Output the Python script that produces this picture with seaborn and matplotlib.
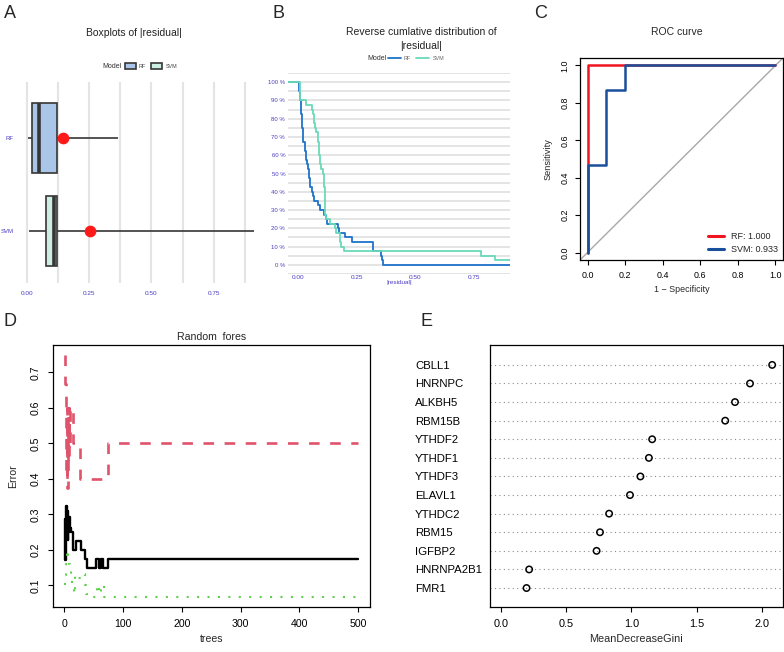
import numpy as np
import pandas as pd
import matplotlib
matplotlib.use("Agg")
import matplotlib.pyplot as plt
import seaborn as sns
from matplotlib.patches import Patch
from matplotlib.lines import Line2D

# |residual| of each model
rf_resid = [0.004, 0.006, 0.008, 0.010, 0.012, 0.013, 0.014, 0.015, 0.017, 0.018,
            0.019, 0.021, 0.022, 0.029, 0.031, 0.032, 0.035, 0.040, 0.044, 0.046,
            0.048, 0.050, 0.053, 0.058, 0.062, 0.068, 0.085, 0.095, 0.110, 0.120,
            0.125, 0.170, 0.175, 0.200, 0.230, 0.318, 0.320, 0.355, 0.360, 0.364]
svm_resid = [0.007, 0.008, 0.009, 0.010, 0.033, 0.060, 0.064, 0.067, 0.070, 0.074,
             0.078, 0.084, 0.086, 0.088, 0.090, 0.091, 0.093, 0.095, 0.100, 0.106,
             0.110, 0.111, 0.112, 0.113, 0.114, 0.115, 0.115, 0.116, 0.117, 0.118,
             0.136, 0.157, 0.160, 0.178, 0.180, 0.185, 0.196, 0.781, 0.839, 0.910]
models = ["RF", "SVM"]

# ROC curve points
rf_fpr = [0.0, 0.0, 1.0]
rf_tpr = [0.0, 1.0, 1.0]
svm_fpr = [0.0, 0.0, 0.1, 0.1, 0.2, 0.2, 1.0]
svm_tpr = [0.0, 0.467, 0.467, 0.867, 0.867, 1.0, 1.0]

# random forest error rates: tree number where the value changes, error
oob_trees = [1, 2, 3, 4, 5, 6, 7, 8, 9, 10, 12, 15, 20, 28, 36, 38, 54, 60, 62, 66, 74, 500]
oob_err = [0.286, 0.171, 0.324, 0.25, 0.31, 0.227, 0.286, 0.25, 0.294, 0.263,
           0.25, 0.2, 0.225, 0.2, 0.175, 0.15, 0.175, 0.15, 0.175, 0.15, 0.175, 0.175]
c1_trees = [1, 2, 3, 4, 5, 6, 7, 8, 9, 10, 15, 27, 74, 500]
c1_err = [0.75, 0.667, 0.4, 0.6, 0.375, 0.571, 0.444, 0.6, 0.5, 0.6, 0.5, 0.4, 0.5, 0.5]
c2_trees = [1, 2, 3, 4, 7, 9, 10, 12, 14, 16, 18, 22, 32, 35, 37, 40, 56, 59, 62, 65, 68, 500]
c2_err = [0.1, 0.13, 0.16, 0.2, 0.167, 0.16, 0.143, 0.115, 0.1, 0.077, 0.13,
          0.12, 0.133, 0.1, 0.077, 0.0667, 0.1, 0.077, 0.087, 0.1, 0.0667, 0.0667]

# variable importance
genes = ["CBLL1", "HNRNPC", "ALKBH5", "RBM15B", "YTHDF2", "YTHDF1", "YTHDF3",
         "ELAVL1", "YTHDC2", "RBM15", "IGFBP2", "HNRNPA2B1", "FMR1"]
gini = [2.08, 1.91, 1.795, 1.72, 1.16, 1.135, 1.07, 0.99, 0.83, 0.76, 0.734, 0.217, 0.197]

box_fill = {"RF": "#a9c6e8", "SVM": "#cdeee3"}
line_col = {"RF": "#1f73cc", "SVM": "#6ad9b8"}
purple = "#4a3cc0"
dark = "#363636"

sns.set_style("white")
plt.rcParams["font.family"] = ["Liberation Sans", "DejaVu Sans"]

W, H = 784, 652
fig = plt.figure(figsize=(W / 100, H / 100), dpi=100)


def px_axes(l, t, r, b):
    return fig.add_axes([l / W, 1 - b / H, (r - l) / W, (b - t) / H])


def px_text(x, y, s, **kw):
    kw.setdefault("ha", "center")
    kw.setdefault("va", "center")
    fig.text(x / W, 1 - y / H, s, **kw)


def r_style(ax, size):
    for sp in ax.spines.values():
        sp.set_visible(True)
        sp.set_color("black")
        sp.set_linewidth(0.9)
    ax.tick_params(direction="out", length=3.6, width=0.8, colors="black",
                   labelsize=size, pad=4, bottom=True, left=True)


# ---------------- A: boxplots ----------------
resid = pd.DataFrame({"residual": rf_resid + svm_resid,
                      "Model": ["RF"] * len(rf_resid) + ["SVM"] * len(svm_resid)})
axA = px_axes(18, 82, 258, 283)
axA.set_axisbelow(True)
sns.boxplot(data=resid, x="residual", y="Model", hue="Model", palette=box_fill,
            saturation=1, whis=(0, 100), width=0.75, showcaps=False,
            linecolor=dark, linewidth=1.2, medianprops={"linewidth": 2.6},
            legend=False, ax=axA)
rmse = [np.sqrt(np.mean(np.square(resid.loc[resid.Model == m, "residual"]))) for m in models]
axA.scatter(rmse, np.arange(len(models)), s=55, color="#ff1a1a", zorder=5)
axA.set_xlim(-0.036, 0.928)
axA.set_ylim(1.56, -0.6)
axA.set_xticks([0, 0.25, 0.5, 0.75])
axA.set_xticklabels(["0.00", "0.25", "0.50", "0.75"])
axA.set_xticks(np.arange(0.125, 0.9, 0.25), minor=True)
axA.xaxis.grid(True, which="both", color="#e4e4e4", lw=1.5)
axA.yaxis.grid(False)
for sp in axA.spines.values():
    sp.set_visible(False)
axA.tick_params(axis="both", which="both", length=0, colors=purple, labelsize=4.6)
axA.tick_params(axis="x", pad=6)
axA.tick_params(axis="y", pad=3, labelsize=4.3)
axA.set_xlabel("")
axA.set_ylabel("")
px_text(134, 33, "Boxplots of |residual|", fontsize=7.5, color="#222222")
px_text(112, 66, "Model", fontsize=5, color="#333333")
fig.legend(handles=[Patch(facecolor=box_fill[m], edgecolor=dark, lw=1.2) for m in models],
           labels=models, loc="center", bbox_to_anchor=(151 / W, 1 - 66 / H), ncol=2,
           frameon=False, fontsize=3.9, handlelength=2.0, handleheight=1.4,
           columnspacing=1.0, handletextpad=0.6, labelcolor="#444444")

# ---------------- B: reverse cumulative distribution ----------------
axB = px_axes(288, 73, 510, 274)
xlimB = (-0.043, 0.905)
rows = []
for m, vals in zip(models, [rf_resid, svm_resid]):
    xs = np.sort(vals)
    ys = 1 - np.arange(1, len(xs) + 1) / len(xs)
    xs = np.r_[xlimB[0], xs, max(xlimB[1], xs[-1])]
    ys = np.r_[1.0, ys, ys[-1]]
    rows.append(pd.DataFrame({"residual": xs, "frac": ys, "Model": m}))
ecdf = pd.concat(rows, ignore_index=True)
sns.lineplot(data=ecdf, x="residual", y="frac", hue="Model", palette=line_col,
             drawstyle="steps-post", estimator=None, sort=False, linewidth=1.3,
             legend=False, ax=axB)
axB.set_xlim(*xlimB)
axB.set_ylim(-0.05, 1.05)
pct = np.round(np.arange(0, 1.01, 0.1), 2)
axB.set_yticks(pct)
axB.set_yticklabels([f"{int(round(p * 100))} %" for p in pct])
axB.set_yticks(np.arange(-0.05, 1.06, 0.1), minor=True)
axB.set_xticks([0, 0.25, 0.5, 0.75])
axB.set_xticklabels(["0.00", "0.25", "0.50", "0.75"])
axB.yaxis.grid(True, which="both", color="#e4e4e4", lw=1.4)
axB.xaxis.grid(False)
axB.set_axisbelow(True)
for sp in axB.spines.values():
    sp.set_visible(False)
axB.tick_params(axis="both", which="both", length=0, colors=purple, labelsize=4.3)
axB.tick_params(axis="x", pad=0.5, labelsize=4.6)
axB.tick_params(axis="y", pad=2)
axB.set_xlabel("|residual|", fontsize=4.6, color=purple, labelpad=0.5)
axB.set_ylabel("")
px_text(421, 32, "Reverse cumlative distribution of", fontsize=7.5, color="#222222")
px_text(421, 46, "|residual|", fontsize=7.5, color="#222222")
px_text(377, 58, "Model", fontsize=5, color="#333333")
fig.legend(handles=[Line2D([], [], color=line_col[m], lw=1.3) for m in models],
           labels=models, loc="center", bbox_to_anchor=(416 / W, 1 - 58 / H), ncol=2,
           frameon=False, fontsize=3.9, handlelength=2.4, columnspacing=1.0,
           handletextpad=0.6, labelcolor="#666666")

# ---------------- C: ROC curve ----------------
axC = px_axes(580, 58, 783, 260)
roc_col = {"RF": "#f0141e", "SVM": "#1a4f9c"}
axC.axline((0, 0), (1, 1), color="#a8a8a8", lw=1.0, zorder=1)
auc = {}
for m, fpr, tpr in [("RF", rf_fpr, rf_tpr), ("SVM", svm_fpr, svm_tpr)]:
    sns.lineplot(x=fpr, y=tpr, sort=False, estimator=None, color=roc_col[m],
                 linewidth=1.8, ax=axC)
    auc[m] = np.trapezoid(tpr, fpr)
axC.set_xlim(-0.04, 1.04)
axC.set_ylim(-0.04, 1.04)
ticks = np.round(np.arange(0, 1.01, 0.2), 1)
axC.set_xticks(ticks)
axC.set_yticks(ticks)
axC.set_xticklabels([f"{t:.1f}" for t in ticks])
axC.set_yticklabels([f"{t:.1f}" for t in ticks])
r_style(axC, 6.4)
axC.tick_params(axis="y", labelrotation=90)
for lbl in axC.get_yticklabels():
    lbl.set_va("center")
axC.set_xlabel("1 \u2212 Specificity", fontsize=6.4, labelpad=4)
axC.set_ylabel("Sensitivity", fontsize=6.6, labelpad=6)
axC.legend(handles=[Line2D([], [], color=roc_col[m], lw=2.2) for m in models],
           labels=[f"{m}: {auc[m]:.3f}" for m in models], loc="lower right",
           bbox_to_anchor=(0.995, 0.012), borderaxespad=0, frameon=False,
           fontsize=6.5, handlelength=1.8, handletextpad=0.8, labelspacing=0.45)
px_text(677, 32, "ROC curve", fontsize=7.5)

# ---------------- D: random forest error ----------------
axD = px_axes(53, 345, 370, 607)
sns.lineplot(x=oob_trees, y=oob_err, drawstyle="steps-post", estimator=None,
             color="black", linewidth=1.7, ax=axD)
sns.lineplot(x=c1_trees, y=c1_err, drawstyle="steps-post", estimator=None,
             color="#DF536B", linewidth=1.9, linestyle=(0, (4, 4)), ax=axD)
sns.lineplot(x=c2_trees, y=c2_err, drawstyle="steps-post", estimator=None,
             color="#61D04F", linewidth=1.5, linestyle=(0, (1, 4)), ax=axD)
axD.set_xlim(-19, 520)
axD.set_ylim(0.0394, 0.777)
axD.set_xticks(np.arange(0, 501, 100))
axD.set_yticks(np.round(np.arange(0.1, 0.71, 0.1), 1))
axD.set_yticklabels([f"{t:.1f}" for t in np.arange(0.1, 0.71, 0.1)])
r_style(axD, 7.6)
axD.tick_params(axis="both", pad=5)
axD.tick_params(axis="y", labelrotation=90)
for lbl in axD.get_yticklabels():
    lbl.set_va("center")
axD.set_xlabel("trees", fontsize=7.6, labelpad=4)
axD.set_ylabel("Error", fontsize=7.6, labelpad=9)
px_text(212, 337, "Random  fores", fontsize=7.6)

# ---------------- E: variable importance ----------------
axE = px_axes(490, 345, 783, 607)
sns.stripplot(x=gini, y=genes, orient="h", jitter=False, size=4.6, linewidth=1.1,
              edgecolor="black", color="white", ax=axE)
for coll in axE.collections:
    coll.set_facecolor("none")
    coll.set_edgecolor("black")
axE.set_xlim(-0.083, 2.163)
axE.set_ylim(len(genes) - 1 + 1.02, -1.07)
axE.set_xticks([0, 0.5, 1.0, 1.5, 2.0])
axE.set_xticklabels(["0.0", "0.5", "1.0", "1.5", "2.0"])
r_style(axE, 7.8)
axE.tick_params(axis="x", pad=5)
axE.tick_params(axis="y", length=0, pad=54, labelsize=8.2)
for lbl in axE.get_yticklabels():
    lbl.set_ha("left")
axE.yaxis.grid(True, linestyle=(0, (1, 3)), color="#8c8c8c", lw=0.8)
axE.xaxis.grid(False)
axE.set_axisbelow(True)
axE.set_xlabel("MeanDecreaseGini", fontsize=7.8, labelpad=4)
axE.set_ylabel("")

# panel letters
for letter, x, y in [("A", 10, 13), ("B", 278, 13), ("C", 541, 13), ("D", 10, 322), ("E", 426, 322)]:
    px_text(x, y, letter, fontsize=13)

fig.savefig("out.png", dpi=100)
